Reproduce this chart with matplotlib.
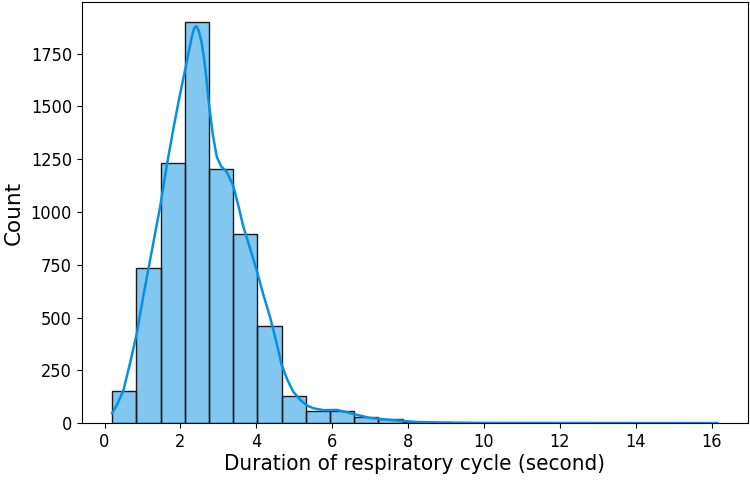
import numpy as np
import matplotlib
matplotlib.use("Agg")
import matplotlib.pyplot as plt

# histogram bins (seconds) and counts
bin_min = 0.2
bin_max = 16.15
n_bins = 25
counts = [154, 737, 1230, 1900, 1203, 898, 460, 130, 60, 58, 27, 20,
          6, 4, 3, 2, 1, 1, 1, 0, 1, 0, 0, 0, 1]

# kde curve (scaled to counts)
kde_x = [0.2, 0.35, 0.5, 0.68, 0.85, 1.02, 1.2, 1.47, 1.65, 1.82, 1.97, 2.12,
         2.22, 2.3, 2.36, 2.42, 2.48, 2.55, 2.62, 2.68, 2.74, 2.85, 2.96,
         3.08, 3.22, 3.39, 3.52, 3.66, 3.84, 4.01, 4.18, 4.36, 4.52, 4.67,
         4.82, 4.97, 5.15, 5.33, 5.5, 5.76, 5.95, 6.11, 6.3, 6.55, 6.99,
         7.17, 7.5, 7.78, 8.2, 8.9, 10.0, 12.0, 14.0, 16.15]
kde_y = [47, 95, 157, 290, 425, 600, 772, 1030, 1230, 1400, 1540, 1670,
         1760, 1830, 1870, 1880, 1860, 1810, 1730, 1640, 1530, 1370, 1260,
         1215, 1190, 1125, 1035, 930, 825, 724, 612, 504, 390, 275,
         205, 150, 112, 84, 71, 62, 62, 63, 56, 44, 25,
         22, 16, 12, 6, 3, 1.5, 1, 0.8, 0.5]

fill_color = '#0591e1'

plt.rcParams['font.stretch'] = 'condensed'

edges = np.linspace(bin_min, bin_max, n_bins + 1)

fig = plt.figure(figsize=(7.5, 4.82), dpi=100)
ax = fig.add_axes([0.109, 0.122, 0.888, 0.874])

ax.hist(edges[:-1], bins=edges, weights=counts, color=fill_color, alpha=0.5,
        edgecolor='none')
ax.hist(edges[:-1], bins=edges, weights=counts, histtype='bar', fill=False,
        edgecolor='#1a1a1a', linewidth=1.0)
ax.plot(kde_x, kde_y, color=fill_color, linewidth=1.8)

ax.set_xlim(-0.6, 16.95)
ax.set_ylim(0, 1995)
ax.set_xticks(np.arange(0, 17, 2))
ax.set_yticks(np.arange(0, 2000, 250))
ax.tick_params(labelsize=13)
ax.set_xlabel('Duration of respiratory cycle (second)', fontsize=16, labelpad=2)
ax.set_ylabel('Count', fontsize=15.5, fontstretch='normal', labelpad=5)

fig.savefig('out.png', dpi=100)
